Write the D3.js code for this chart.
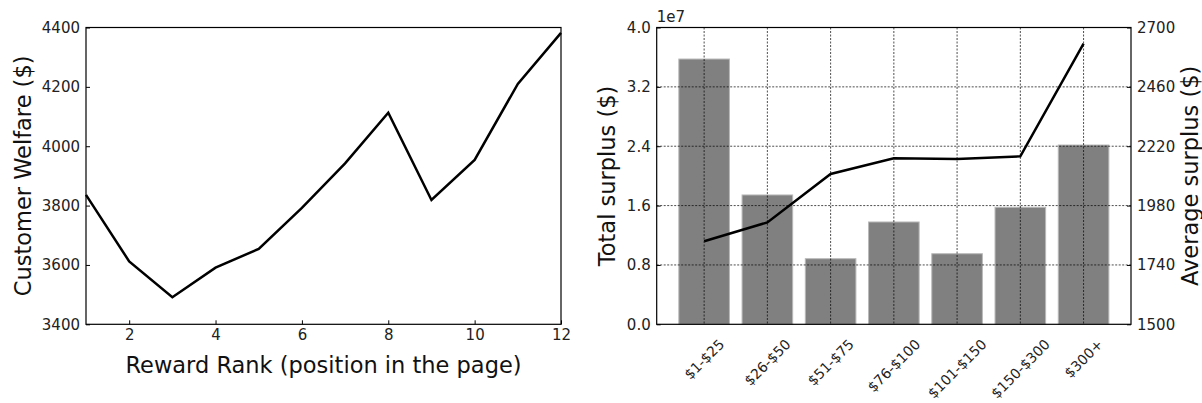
<!DOCTYPE html>
<html>
<head>
<meta charset="utf-8">
<script src="https://cdn.jsdelivr.net/npm/d3@7"></script>
<style>
  body { margin: 0; background: #fff; }
  svg { display: block; font-family: "DejaVu Sans", sans-serif; }
  .axis path, .axis line { stroke: #000; }
  .axis text { fill: #222; }
</style>
</head>
<body>
<svg id="chart" width="1202" height="403"></svg>
<script>
// Left panel: customer welfare by reward rank
const rankPositions = [1, 2, 3, 4, 5, 6, 7, 8, 9, 10, 11, 12];
const customerWelfare = [3836, 3612, 3491, 3591, 3654, 3792, 3942, 4113, 3819, 3954, 4210, 4382];
const rankTicks = [2, 4, 6, 8, 10, 12];
const welfareTicks = [3400, 3600, 3800, 4000, 4200, 4400];

// Right panel: surplus by price bin
const priceBins = ["$1-$25", "$26-$50", "$51-$75", "$76-$100", "$101-$150", "$150-$300", "$300+"];
const totalSurplus = [3.575e7, 1.743e7, 0.884e7, 1.379e7, 0.951e7, 1.577e7, 2.416e7];
const averageSurplus = [1836, 1912, 2108, 2171, 2168, 2179, 2635];
const totalTicks = [0, 0.8e7, 1.6e7, 2.4e7, 3.2e7, 4.0e7];
const averageTicks = [1500, 1740, 1980, 2220, 2460, 2700];

const svg = d3.select("#chart");
const plotTop = 27.5, plotBottom = 324.3;
const tickFont = 15;
const labelFont = "22.5px";

function styleAxis(g) {
    g.attr("font-family", "DejaVu Sans, sans-serif").attr("font-size", tickFont);
    g.select(".domain").remove();
    g.selectAll("text").attr("fill", "#222");
}

// ---------- left panel ----------
const L = { left: 86, right: 561 };

const xRank = d3.scaleLinear().domain([1, 12]).range([L.left, L.right]);
const yWelfare = d3.scaleLinear().domain([3400, 4400]).range([plotBottom, plotTop]);

const leftPanel = svg.append("g");

leftPanel.append("path")
    .datum(rankPositions.map((r, i) => [r, customerWelfare[i]]))
    .attr("fill", "none")
    .attr("stroke", "#000")
    .attr("stroke-width", 2.5)
    .attr("d", d3.line().x(d => xRank(d[0])).y(d => yWelfare(d[1])));

leftPanel.append("g")
    .attr("class", "axis")
    .attr("transform", `translate(0,${plotBottom})`)
    .call(d3.axisBottom(xRank).tickValues(rankTicks).tickFormat(d3.format("d")).tickSizeInner(-4).tickSizeOuter(0).tickPadding(5))
    .call(styleAxis);

leftPanel.append("g")
    .attr("class", "axis")
    .attr("transform", `translate(${L.left},0)`)
    .call(d3.axisLeft(yWelfare).tickValues(welfareTicks).tickFormat(d3.format("d")).tickSizeInner(-4).tickSizeOuter(0).tickPadding(6))
    .call(styleAxis);

// frame
leftPanel.append("rect")
    .attr("x", L.left).attr("y", plotTop)
    .attr("width", L.right - L.left).attr("height", plotBottom - plotTop)
    .attr("fill", "none").attr("stroke", "#000").attr("stroke-width", 1.2);

leftPanel.append("text")
    .attr("transform", `translate(31,${(plotTop + plotBottom) / 2}) rotate(-90)`)
    .attr("text-anchor", "middle")
    .style("font-size", labelFont)
    .attr("fill", "#111")
    .text("Customer Welfare ($)");

leftPanel.append("text")
    .attr("x", (L.left + L.right) / 2)
    .attr("y", 373)
    .attr("text-anchor", "middle")
    .style("font-size", labelFont)
    .attr("fill", "#111")
    .text("Reward Rank (position in the page)");

// ---------- right panel ----------
const R = { left: 656.7, right: 1131 };

const xBin = d3.scaleLinear().domain([-0.75, priceBins.length - 0.25]).range([R.left, R.right]);
const yTotal = d3.scaleLinear().domain([0, 4.0e7]).range([plotBottom, plotTop]);
const yAvg = d3.scaleLinear().domain([1500, 2700]).range([plotBottom, plotTop]);

const rightPanel = svg.append("g");
const barW = xBin(0.4) - xBin(-0.4);

rightPanel.selectAll(".bar")
    .data(priceBins)
    .enter()
    .append("rect")
    .attr("class", "bar")
    .attr("x", (d, i) => xBin(i) - barW / 2)
    .attr("y", (d, i) => yTotal(totalSurplus[i]))
    .attr("width", barW)
    .attr("height", (d, i) => plotBottom - yTotal(totalSurplus[i]))
    .attr("fill", "#808080")
    .attr("stroke", "#b8b8b8")
    .attr("stroke-width", 1);

// grid
rightPanel.selectAll(".hgrid")
    .data(totalTicks.slice(1, -1))
    .enter()
    .append("line")
    .attr("x1", R.left).attr("x2", R.right)
    .attr("y1", d => yTotal(d)).attr("y2", d => yTotal(d))
    .attr("stroke", "#000").attr("stroke-width", 0.7)
    .attr("stroke-dasharray", "2,1.5");

rightPanel.selectAll(".vgrid")
    .data(priceBins)
    .enter()
    .append("line")
    .attr("x1", (d, i) => xBin(i)).attr("x2", (d, i) => xBin(i))
    .attr("y1", plotTop).attr("y2", plotBottom)
    .attr("stroke", "#000").attr("stroke-width", 0.7)
    .attr("stroke-dasharray", "2,1.5");

rightPanel.append("path")
    .datum(averageSurplus)
    .attr("fill", "none")
    .attr("stroke", "#000")
    .attr("stroke-width", 2.5)
    .attr("d", d3.line().x((d, i) => xBin(i)).y(d => yAvg(d)));

rightPanel.append("g")
    .attr("class", "axis")
    .attr("transform", `translate(${R.left},0)`)
    .call(d3.axisLeft(yTotal).tickValues(totalTicks).tickFormat(d => (d / 1e7).toFixed(1)).tickSizeInner(-4).tickSizeOuter(0).tickPadding(6))
    .call(styleAxis);

rightPanel.append("g")
    .attr("class", "axis")
    .attr("transform", `translate(${R.right},0)`)
    .call(d3.axisRight(yAvg).tickValues(averageTicks).tickFormat(d3.format("d")).tickSizeInner(-4).tickSizeOuter(0).tickPadding(6))
    .call(styleAxis);

rightPanel.append("rect")
    .attr("x", R.left).attr("y", plotTop)
    .attr("width", R.right - R.left).attr("height", plotBottom - plotTop)
    .attr("fill", "none").attr("stroke", "#000").attr("stroke-width", 1.2);

// rotated category labels: bbox centred on the tick, top just below the axis
const labelTop = 338;
const catFont = 14;
rightPanel.selectAll(".xlabel")
    .data(priceBins)
    .enter()
    .append("text")
    .attr("class", "xlabel")
    .attr("text-anchor", "middle")
    .attr("dominant-baseline", "central")
    .style("font-size", catFont + "px")
    .attr("fill", "#222")
    .text(d => d)
    .each(function(d, i) {
        const w = this.getComputedTextLength();
        const h = catFont * 0.75;
        const cy = labelTop + (w + h) / (2 * Math.SQRT2);
        d3.select(this).attr("transform", `translate(${xBin(i)},${cy}) rotate(-45)`);
    });

rightPanel.append("text")
    .attr("x", R.left)
    .attr("y", 22)
    .style("font-size", "15px")
    .attr("fill", "#222")
    .text("1e7");

rightPanel.append("text")
    .attr("transform", `translate(615,${(plotTop + plotBottom) / 2}) rotate(-90)`)
    .attr("text-anchor", "middle")
    .style("font-size", labelFont)
    .attr("fill", "#111")
    .text("Total surplus ($)");

rightPanel.append("text")
    .attr("transform", `translate(1198,${(plotTop + plotBottom) / 2}) rotate(-90)`)
    .attr("text-anchor", "middle")
    .style("font-size", labelFont)
    .attr("fill", "#111")
    .text("Average surplus ($)");
</script>
</body>
</html>
